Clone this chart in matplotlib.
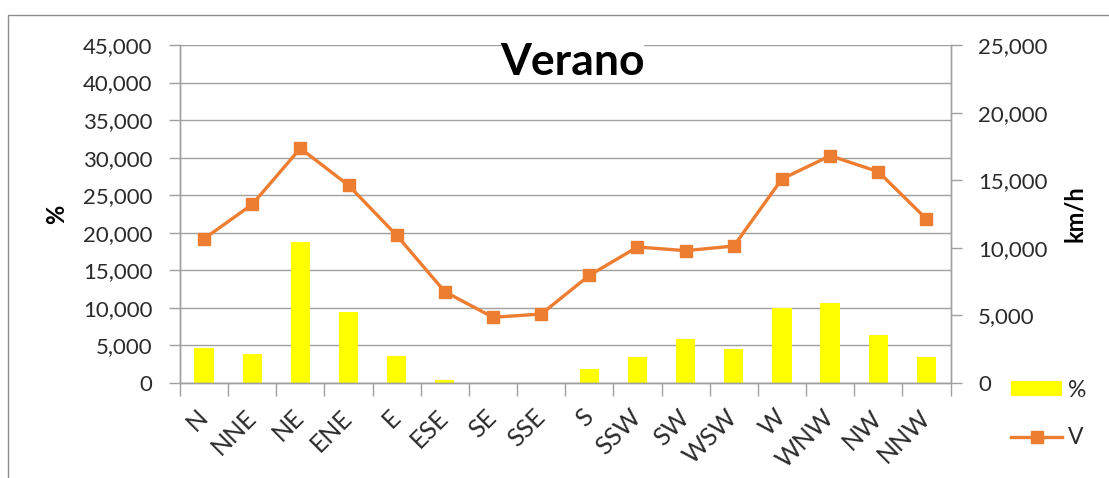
import numpy as np
import matplotlib
matplotlib.use('Agg')
import matplotlib.pyplot as plt
from matplotlib.patches import Rectangle
from matplotlib.ticker import FuncFormatter, FixedLocator

plt.rcParams['font.family'] = ['Lato', 'DejaVu Sans']

dirs = ['N', 'NNE', 'NE', 'ENE', 'E', 'ESE', 'SE', 'SSE', 'S', 'SSW', 'SW', 'WSW', 'W', 'WNW', 'NW', 'NNW']
pct = [4.62, 3.82, 18.82, 9.45, 3.64, 0.40, 0.0, 0.0, 1.82, 3.50, 5.86, 4.53, 9.94, 10.60, 6.39, 3.50]
vel = [10.67, 13.21, 17.36, 14.62, 10.92, 6.75, 4.86, 5.10, 7.96, 10.06, 9.79, 10.13, 15.09, 16.81, 15.63, 12.13]

W, H = 1109, 478
fig = plt.figure(figsize=(W/100, H/100), dpi=100)
ax = fig.add_axes([180/W, 1-383/H, (950.5-180)/W, (383-45)/H])
ax2 = ax.twinx()

tc = '#2b2b2b'; gc = '#a0a0a0'; fs = 16
x = np.arange(len(dirs))
b = ax.bar(x, pct, width=0.4, color='#FFFF00', label='%', zorder=2)
l, = ax2.plot(x, vel, color='#ED7D31', lw=2.4, marker='s', ms=8.7, label='V', zorder=3)

def fmt(v, p):
    return '0' if abs(v) < 1e-9 else ('%.3f' % v).replace('.', ',')

ax.set_xlim(-0.5, 15.5)
ax.set_ylim(0, 45); ax.set_yticks(np.arange(0, 46, 5))
ax2.set_ylim(0, 25); ax2.set_yticks(np.arange(0, 26, 5))
ax.yaxis.set_major_formatter(FuncFormatter(fmt)); ax2.yaxis.set_major_formatter(FuncFormatter(fmt))
ax.set_axisbelow(True)
ax.grid(axis='y', color=gc, lw=1.0)

ax.set_xticks(x); ax.set_xticklabels(dirs, rotation=45, ha='right', va='center', rotation_mode='anchor')
ax.xaxis.set_minor_locator(FixedLocator(np.arange(-0.5, 16, 1)))
ax.tick_params(axis='x', which='major', length=0, pad=22, labelsize=18, labelcolor=tc)
ax.tick_params(axis='x', which='minor', length=9, color=gc, width=1.0)
ax.tick_params(axis='y', length=8, color=gc, width=1.0, pad=12, labelsize=fs, labelcolor=tc)
ax2.tick_params(axis='y', length=8, color=gc, width=1.0, pad=12, labelsize=fs, labelcolor=tc)

for a in (ax, ax2):
    a.spines['top'].set_visible(False)
    for s in ('left', 'right', 'bottom'):
        a.spines[s].set_color(gc); a.spines[s].set_linewidth(1.0)

# title box hides the top gridline behind the text
ax.add_patch(Rectangle((502/W, 1-52/H), 141/W, 12/H, transform=fig.transFigure, color='white',
                       zorder=1, clip_on=False))
fig.text(572/W, 1-75/H, 'Verano', ha='center', va='baseline', fontsize=32, fontweight='bold', color='black')
fig.text(57/W, 1-214/H, '%', rotation=90, ha='center', va='center', fontsize=17, fontweight='bold', color='black')
fig.text(1075/W, 1-214/H, 'km/h', rotation=90, ha='center', va='center', fontsize=17, fontweight='bold', color='black')

fig.legend([b, l], ['%', 'V'], loc='center left', bbox_to_anchor=(1011/W, 1-414/H), frameon=False,
           borderpad=0, borderaxespad=0, handlelength=2.23, handleheight=0.6, handletextpad=0.26,
           labelspacing=1.15, fontsize=16.5, labelcolor=tc)

fig.patches.append(Rectangle((7.5/W, -0.1), 1.2, 1-15.5/H+0.1, transform=fig.transFigure, fill=False,
                             edgecolor='#8c8c8c', lw=1.0))
fig.savefig('out.png', dpi=100)
